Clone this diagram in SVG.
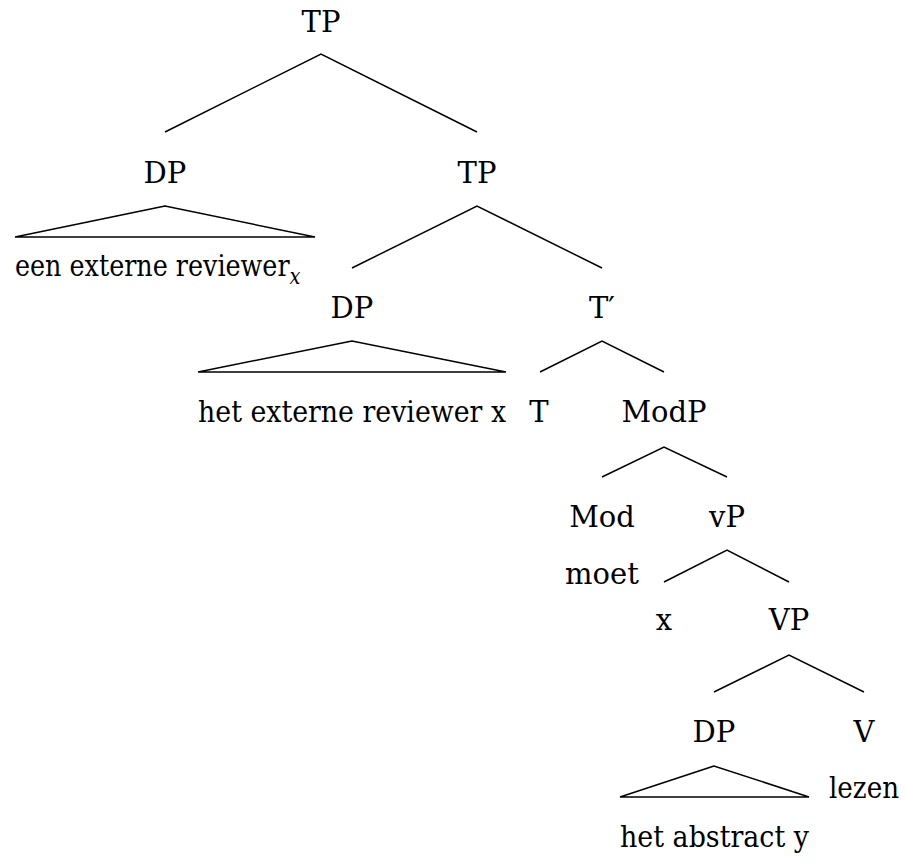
<svg xmlns="http://www.w3.org/2000/svg" width="906" height="867" viewBox="0 0 906 867">
  <style>
    .lbl { font-family: "DejaVu Serif", "Noto Serif", "Liberation Serif", serif; font-size: 29px; fill: #000; }
    .c { text-anchor: middle; }
    .sub { font-style: italic; font-size: 22px; }
    .edge { stroke: #000; stroke-width: 1.5; fill: none; }
  </style>
  <rect width="906" height="867" fill="#fff"/>

  <!-- branches of the tree -->
  <g id="connectors">
    <polyline class="edge" points="165,132 321,54 477,132"/>
    <polygon class="edge" points="165,206 15,237 315,237"/>
    <polyline class="edge" points="352,268 477,206 602,268"/>
    <polygon class="edge" points="352,341 198,372 506,372"/>
    <polyline class="edge" points="540,372 602,341 664,372"/>
    <polyline class="edge" points="602,477 664,447 727,477"/>
    <polyline class="edge" points="664,582 727,550 789,582"/>
    <polyline class="edge" points="714,692 789,655 864,692"/>
    <polygon class="edge" points="714,766 620,797 809,797"/>
  </g>

  <g class="lbl">
    <g id="tp-root"><text class="c" x="321" y="32">TP</text></g>
    <g id="dp-subject">
      <text class="c" x="165" y="183">DP</text>
      <!-- narrowed horizontally so the phrase spans the triangle base -->
      <text transform="translate(15 276) scale(0.877 1)">een externe reviewer<tspan class="sub" dy="8">x</tspan></text>
    </g>
    <g id="tp-inner"><text class="c" x="477" y="183">TP</text></g>
    <g id="dp-inner">
      <text class="c" x="352" y="318">DP</text>
      <text x="198" y="422" textLength="308" lengthAdjust="spacingAndGlyphs">het externe reviewer x</text>
    </g>
    <g id="t-bar"><text class="c" x="602" y="318">T′</text></g>
    <g id="t-head"><text class="c" x="539" y="422">T</text></g>
    <g id="modp"><text class="c" x="664" y="422">ModP</text></g>
    <g id="mod-head">
      <text class="c" x="602" y="527">Mod</text>
      <text class="c" x="602" y="584">moet</text>
    </g>
    <g id="vp-light"><text class="c" x="727" y="527">vP</text></g>
    <g id="x-spec"><text class="c" x="664" y="630">x</text></g>
    <g id="vp"><text class="c" x="789" y="630">VP</text></g>
    <g id="dp-object">
      <text class="c" x="714" y="742">DP</text>
      <text x="620" y="847" textLength="189" lengthAdjust="spacingAndGlyphs">het abstract y</text>
    </g>
    <g id="v-head">
      <text class="c" x="864" y="742">V</text>
      <text x="829" y="798" textLength="70" lengthAdjust="spacingAndGlyphs">lezen</text>
    </g>
  </g>
</svg>
